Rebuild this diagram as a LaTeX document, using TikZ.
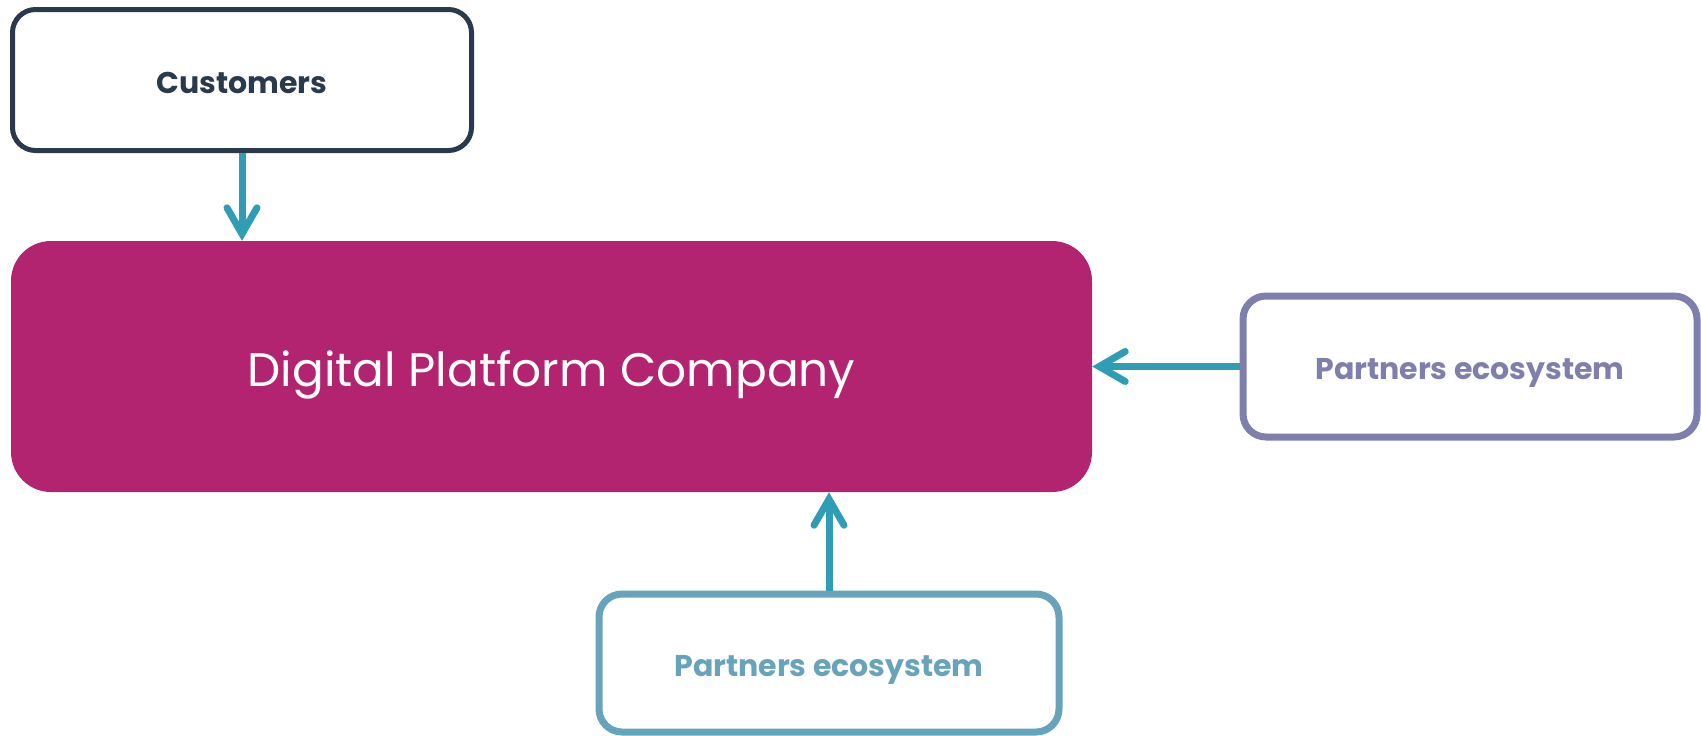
\documentclass[tikz,border=0pt]{standalone}
\usepackage{fontspec}
\setmainfont{Poppins}
\usetikzlibrary{arrows.meta}
\definecolor{magentaC}{HTML}{B22470}
\definecolor{tealC}{HTML}{2E9DB5}
\definecolor{navyC}{HTML}{283A4B}
\definecolor{purpleC}{HTML}{7F7FAE}
\definecolor{lblueC}{HTML}{67A3BA}
\tikzset{
  outbox/.style={draw, line width=5pt, rounded corners=23pt, fill=white, align=center, text height=26pt, text depth=0pt, font=\bfseries\fontsize{30}{36}\selectfont},
  mainbox/.style={fill=magentaC, rounded corners=40pt, text=white, text height=39pt, text depth=0pt, font=\fontsize{47}{56}\selectfont},
  flow/.style={draw=tealC, line width=7pt, -{Straight Barb[length=26pt,width=30pt,line width=7pt,line cap=round,line join=miter]}}
}
\begin{document}
\begin{tikzpicture}[x=1pt,y=-1pt]
\useasboundingbox (0,0) rectangle (1701,736);
\node[mainbox, minimum width=1081pt, minimum height=251pt] (mag) at (551.5,366.5) {Digital Platform Company};
\node[outbox, draw=navyC, text=navyC, minimum width=459pt, minimum height=141pt] (cust) at (242,80) {Customers};
\node[outbox, draw=purpleC, text=purpleC, line width=7pt, minimum width=454pt, minimum height=141pt] (pe1) at (1470,366.5) {Partners ecosystem};
\node[outbox, draw=lblueC, text=lblueC, line width=7pt, minimum width=460pt, minimum height=138pt] (pe2) at (829,663) {Partners ecosystem};
\draw[flow] (cust.south) -- (cust.south |- mag.north);
\draw[flow] (pe1.west) -- (pe1.west -| mag.east);
\draw[flow] (pe2.north) -- (pe2.north |- mag.south);
\end{tikzpicture}
\end{document}
